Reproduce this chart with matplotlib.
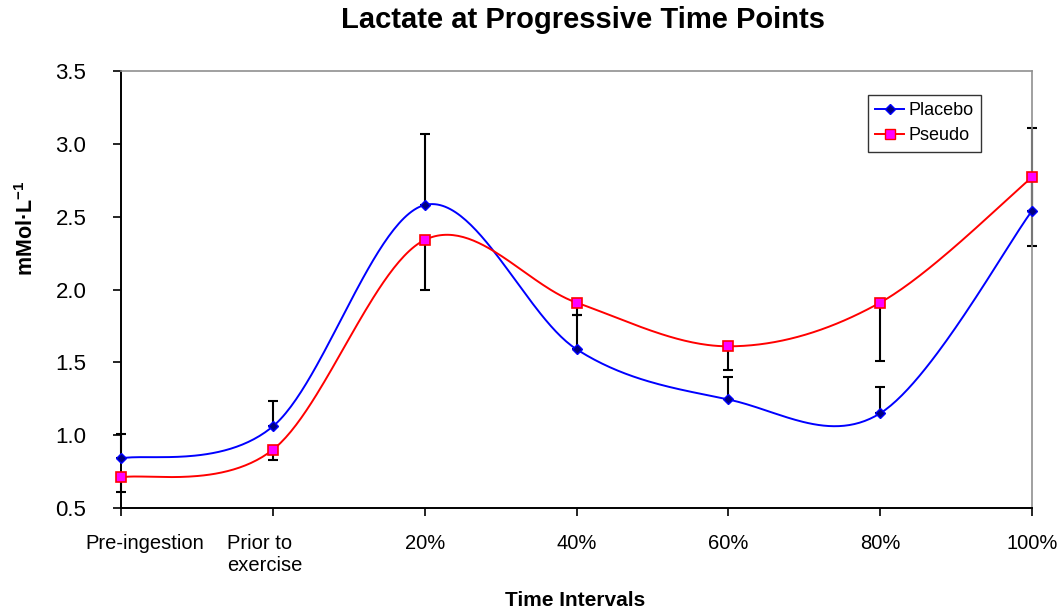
import numpy as np
import matplotlib
matplotlib.use("Agg")
import matplotlib.pyplot as plt
import matplotlib.transforms as mtransforms
from matplotlib.lines import Line2D

plt.rcParams['font.family'] = ['Liberation Sans', 'DejaVu Sans']
plt.rcParams['mathtext.fontset'] = 'custom'
plt.rcParams['mathtext.rm'] = 'Liberation Sans'
plt.rcParams['mathtext.bf'] = 'Liberation Sans:bold'

categories = ["Pre-ingestion", "Prior to\nexercise", "20%", "40%", "60%", "80%", "100%"]
placebo = [0.84, 1.06, 2.58, 1.59, 1.245, 1.15, 2.54]
placebo_err_up = [0.17, 0.175, 0.49, 0.235, 0.155, 0.18, 0.57]
pseudo = [0.71, 0.90, 2.34, 1.91, 1.61, 1.91, 2.77]
pseudo_err_down = [0.10, 0.07, 0.345, 0.085, 0.165, 0.40, 0.47]
yticks = [0.5, 1.0, 1.5, 2.0, 2.5, 3.0, 3.5]


def smooth(x, y, n=60):
    x = np.asarray(x, float)
    y = np.asarray(y, float)
    P = np.column_stack([x, y])
    Pp = np.vstack([P[0], P, P[-1]])
    out = []
    for i in range(len(P) - 1):
        p0, p1, p2, p3 = Pp[i], Pp[i + 1], Pp[i + 2], Pp[i + 3]
        c1 = p1 + (p2 - p0) / 6.0
        c2 = p2 - (p3 - p1) / 6.0
        t = np.linspace(0, 1, n)[:, None]
        seg = ((1 - t) ** 3) * p1 + 3 * ((1 - t) ** 2) * t * c1 + 3 * (1 - t) * t ** 2 * c2 + t ** 3 * p2
        out.append(seg if i == 0 else seg[1:])
    out = np.vstack(out)
    return out[:, 0], out[:, 1]


fig = plt.figure(figsize=(10.64, 6.16), dpi=100)
ax = fig.add_axes([121 / 1064, 1 - 508 / 616, 911 / 1064, 437 / 616])

x = np.arange(len(categories))

ax.errorbar(x, placebo, yerr=[np.zeros(len(x)), placebo_err_up], fmt='none',
            ecolor='black', elinewidth=1.5, capsize=3.6, capthick=1.5, zorder=2, clip_on=False)
ax.errorbar(x, pseudo, yerr=[pseudo_err_down, np.zeros(len(x))], fmt='none',
            ecolor='black', elinewidth=1.5, capsize=3.6, capthick=1.5, zorder=2, clip_on=False)

sx, sy = smooth(x, placebo)
ax.plot(sx, sy, color='#0000FF', lw=1.4, zorder=3, clip_on=False)
sx2, sy2 = smooth(x, pseudo)
ax.plot(sx2, sy2, color='#FF0000', lw=1.4, zorder=3, clip_on=False)

ax.plot(x, placebo, linestyle='none', marker='D', markersize=5.5,
        markerfacecolor='#000080', markeredgecolor='#0000FF', zorder=4, clip_on=False)
ax.plot(x, pseudo, linestyle='none', marker='s', markersize=7,
        markerfacecolor='#FF00FF', markeredgecolor='#FF0000', markeredgewidth=1.2, zorder=4, clip_on=False)

ax.set_xlim(0, len(categories) - 1)
ax.set_ylim(0.5, 3.5)
ax.set_xticks(x)
ax.set_xticklabels(categories, fontsize=14.5, multialignment='left')
ax.set_yticks(yticks)
ax.set_yticklabels([f"{v:.1f}" for v in yticks], fontsize=16)
ax.tick_params(axis='both', direction='out', length=6, width=1.2, color='black')
ax.tick_params(axis='y', pad=19)
ax.tick_params(axis='x', pad=12.5)

# shift a couple of category labels as in the reference layout
offsets_px = {0: 24, 1: -8}
for i, lab in enumerate(ax.get_xticklabels()):
    if i in offsets_px:
        lab.set_transform(lab.get_transform() +
                          mtransforms.ScaledTranslation(offsets_px[i] / 100, 0, fig.dpi_scale_trans))

for s in ['left', 'bottom']:
    ax.spines[s].set_color('black')
    ax.spines[s].set_linewidth(1.4)
for s in ['top', 'right']:
    ax.spines[s].set_color('#909090')
    ax.spines[s].set_linewidth(1.2)

handles = [
    Line2D([], [], color='#0000FF', lw=1.4, marker='D', markersize=5.5,
           markerfacecolor='#000080', markeredgecolor='#0000FF'),
    Line2D([], [], color='#FF0000', lw=1.4, marker='s', markersize=7,
           markerfacecolor='#FF00FF', markeredgecolor='#FF0000'),
]
leg = ax.legend(handles, ["Placebo", "Pseudo"], loc='upper left',
                bbox_to_anchor=((868 - 121) / 911, (508 - 95) / 437), borderaxespad=0,
                fontsize=13, frameon=True, fancybox=False, handlelength=1.6,
                handletextpad=0.25, borderpad=0.4, labelspacing=0.45)
leg.get_frame().set_edgecolor('black')
leg.get_frame().set_linewidth(1.0)

fig.text(583 / 1064, 1 - 20 / 616, "Lactate at Progressive Time Points",
         ha='center', va='center', fontsize=21, fontweight='bold')
fig.text(575 / 1064, 1 - 601 / 616, "Time Intervals",
         ha='center', va='center', fontsize=15, fontweight='bold')
fig.text(27 / 1064, 1 - 228 / 616, r"mMol·L$^{\mathbf{-1}}$", rotation=90,
         ha='center', va='center', fontsize=15.5, fontweight='bold')

fig.savefig("out.png", dpi=100)
